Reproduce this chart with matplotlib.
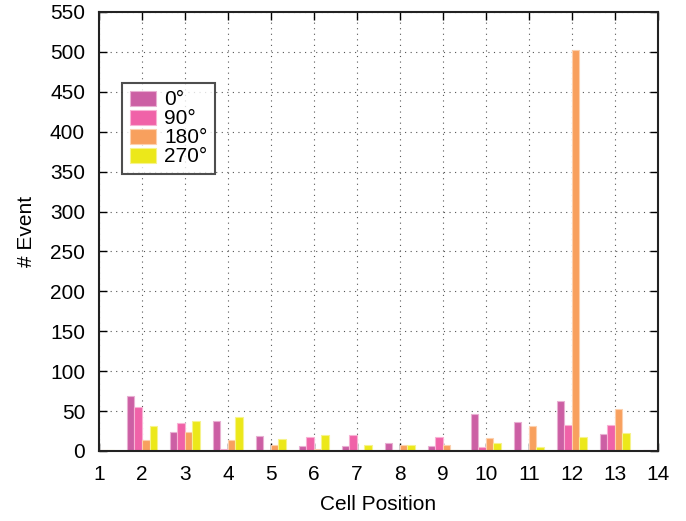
import numpy as np
import matplotlib.pyplot as plt

cells = np.arange(1, 15)
labels = ["0°", "90°", "180°", "270°"]
colors = ["#cc5fa4", "#f062a8", "#f8a05e", "#ece81a"]
edges = ["#e8b0d2", "#f8b2d4", "#fcd0ae", "#f6f38c"]

ev_0 = [1, 69, 24, 37, 19, 6, 6, 10, 6, 46, 36, 62, 21, 1]
ev_90 = [1, 55, 35, 2, 1, 17, 20, 1, 18, 5, 1, 33, 32, 1]
ev_180 = [1, 14, 24, 14, 7, 2, 1, 7, 7, 16, 31, 502, 53, 1]
ev_270 = [1, 31, 37, 42, 15, 20, 7, 8, 1, 10, 5, 18, 22, 1]
series = [ev_0, ev_90, ev_180, ev_270]

plt.rcParams["font.family"] = ["Liberation Sans", "DejaVu Sans"]

fig = plt.figure(figsize=(6.86, 5.21), dpi=100)
ax = fig.add_axes([0.1443, 0.1344, 0.8147, 0.8426])

w = 0.175
for i, (vals, c, ec, lab) in enumerate(zip(series, colors, edges, labels)):
    ax.bar(cells + (i - 1.5) * w, vals, width=w, color=c, edgecolor=ec,
           linewidth=0.8, label=lab, zorder=3)

ax.set_xlim(1, 14)
ax.set_ylim(0, 550)
ax.set_xticks(range(1, 15))
ax.set_yticks(range(0, 551, 50))
ax.grid(True, linestyle=(0, (1, 4)), color="#555555", linewidth=0.8, zorder=0)
ax.tick_params(direction="in", top=True, right=True, length=6, width=1,
               labelsize=15, pad=10)
for s in ax.spines.values():
    s.set_linewidth(1.5)
    s.set_color("#222222")
    s.set_zorder(5)

ax.set_xlabel("Cell Position", fontsize=15, labelpad=8)
ax.set_ylabel("# Event", fontsize=15, labelpad=10)

leg = ax.legend(loc="upper left", bbox_to_anchor=(0.042, 0.838), fontsize=15,
                frameon=True, fancybox=False, handlelength=1.25,
                handleheight=0.72, handletextpad=0.4, labelspacing=0.0,
                borderpad=0.35, borderaxespad=0)
leg.get_frame().set_edgecolor("#222222")
leg.get_frame().set_linewidth(1.5)

fig.savefig("out.png", dpi=100)
